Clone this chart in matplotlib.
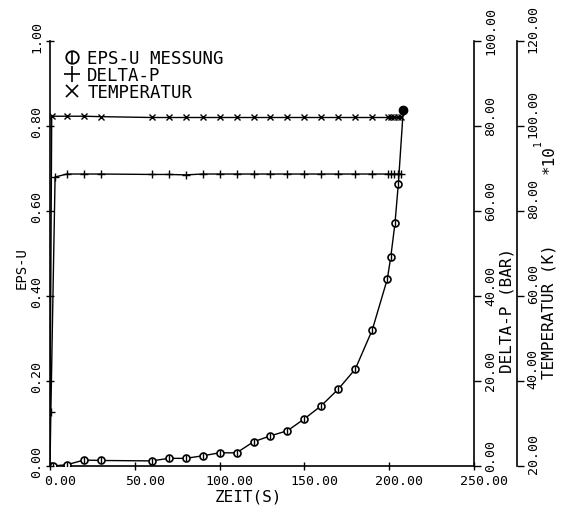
import matplotlib
matplotlib.use("Agg")
import matplotlib.pyplot as plt
from matplotlib.lines import Line2D
from matplotlib.legend_handler import HandlerTuple
from matplotlib.transforms import ScaledTranslation

plt.rcParams['font.family'] = ['DejaVu Sans Mono', 'DejaVu Sans']

# ---- data ----
t_eps = [0, 1.5, 10, 20, 30, 60, 70, 80, 90, 100, 110, 120, 130, 140, 150,
         160, 170, 180, 190, 198.9, 200.9, 203.4, 205.4, 208.3]
eps_u = [0.0, 0.0, 0.003, 0.014, 0.013, 0.012, 0.018, 0.018, 0.024, 0.031,
         0.031, 0.057, 0.071, 0.083, 0.111, 0.142, 0.181, 0.228, 0.320,
         0.440, 0.491, 0.571, 0.664, 0.838]

t_dp = [0, 0.5, 3, 10, 20, 30, 60, 70, 80, 90, 100, 110, 120, 130, 140, 150,
        160, 170, 180, 190, 199, 201, 203, 205, 207]
delta_p = [0.0, 12.7, 68.0, 68.7, 68.7, 68.7, 68.6, 68.6, 68.5, 68.7, 68.7,
           68.7, 68.7, 68.7, 68.7, 68.7, 68.7, 68.7, 68.7, 68.7, 68.7, 68.7,
           68.7, 68.7, 68.7]

t_temp = [0, 1, 10, 20, 30, 60, 70, 80, 90, 100, 110, 120, 130, 140, 150,
          160, 170, 180, 190, 199, 201, 203, 205, 207]
temperatur = [29.3, 102.3, 102.3, 102.3, 102.2, 102.0, 102.0, 102.0, 102.0,
              102.0, 102.0, 102.0, 102.0, 102.0, 102.0, 102.0, 102.0, 102.0,
              102.0, 102.0, 102.0, 102.0, 102.0, 102.0]

x_ticks = [0, 50, 100, 150, 200, 250]
y_ticks = [0.0, 0.2, 0.4, 0.6, 0.8, 1.0]
dp_ticks = [0, 20, 40, 60, 80, 100]
temp_ticks = [20, 40, 60, 80, 100, 120]

W, H = 562, 510
fig = plt.figure(figsize=(W / 100, H / 100), dpi=100)
ax = fig.add_axes([50 / W, 43 / H, 424 / W, 425 / H])
ax2 = ax.twinx()
ax3 = ax.twinx()

lw = 1.0
# EPS-U
ax.plot(t_eps, eps_u, color='black', lw=lw, marker='o', ms=5, mfc='white',
        mec='black', mew=1.2, zorder=3)
ax.plot(t_eps, eps_u, ls='none', marker='|', ms=5, color='black', mew=1.0,
        zorder=4)
ax.plot(t_eps[-1:], eps_u[-1:], ls='none', marker='o', ms=6, color='black',
        zorder=5)
# DELTA-P
ax2.plot(t_dp, delta_p, color='black', lw=lw, marker='+', ms=6, mew=1.0)
# Temperature
ax3.plot(t_temp, temperatur, color='black', lw=lw, marker='x', ms=4.5,
         mew=1.0, markevery=list(range(1, len(t_temp))))

ax.set_xlim(0, 250)
ax.set_ylim(0, 1)
ax2.set_ylim(0, 100)
ax3.set_ylim(20, 120)

for a in (ax, ax2, ax3):
    a.patch.set_visible(False)
    for s in a.spines.values():
        s.set_visible(False)
        s.set_linewidth(1.2)
ax.spines['left'].set_visible(True)
ax.spines['bottom'].set_visible(True)
ax2.spines['right'].set_visible(True)
ax3.spines['right'].set_visible(True)
ax3.spines['right'].set_position(('axes', 1 + 43 / 424))

tick_font = 9.5
ax.set_xticks(x_ticks)
ax.set_xticklabels(['%.2f' % v for v in x_ticks], fontsize=tick_font)
ax.set_yticks(y_ticks)
ax.set_yticklabels(['%.2f' % v for v in y_ticks], fontsize=tick_font,
                   rotation=90, va='center')
ax2.set_yticks(dp_ticks)
ax2.set_yticklabels(['%.2f' % v for v in dp_ticks], fontsize=tick_font,
                    rotation=90, va='center', ha='left')
ax3.set_yticks(temp_ticks)
ax3.set_yticklabels(['%.2f' % v for v in temp_ticks], fontsize=tick_font,
                    rotation=90, va='center', ha='left')

ax.tick_params(axis='x', direction='inout', length=6, width=1.0, pad=3)
ax.tick_params(axis='y', direction='inout', length=6, width=1.0, pad=2)
ax2.tick_params(axis='y', direction='out', length=5, width=1.0, pad=2.5)
ax3.tick_params(axis='y', direction='out', length=5, width=1.0, pad=2)

dpi = fig.dpi_scale_trans
for lab in ax.get_xticklabels():
    lab.set_transform(lab.get_transform() + ScaledTranslation(0.10, 0, dpi))
for lab in ax.get_yticklabels():
    lab.set_transform(lab.get_transform() + ScaledTranslation(0, 0.05, dpi))
for lab in ax2.get_yticklabels():
    lab.set_transform(lab.get_transform() + ScaledTranslation(0, 0.11, dpi))
for lab in ax3.get_yticklabels():
    lab.set_transform(lab.get_transform() + ScaledTranslation(0, 0.13, dpi))

# axis labels
fig.text(248 / W, 1 - 497 / H, 'ZEIT(S)', fontsize=11.5, ha='center',
         va='center')
fig.text(22 / W, 1 - 268 / H, 'EPS-U', fontsize=10, ha='center',
         va='center', rotation=90)
fig.text(507 / W, 1 - 310 / H, 'DELTA-P (BAR)', fontsize=11.5, ha='center',
         va='center', rotation=90)
fig.text(549 / W, 1 - 312 / H, 'TEMPERATUR (K)', fontsize=11.5, ha='center',
         va='center', rotation=90)
fig.text(549 / W, 1 - 160 / H, '*10', fontsize=11.5, ha='center',
         va='center', rotation=90)
fig.text(538 / W, 1 - 143 / H, '1', fontsize=7, ha='center',
         va='center', rotation=90)

# legend
h_eps = (Line2D([], [], ls='none', marker='o', ms=9, mfc='white',
                mec='black', mew=1.3),
         Line2D([], [], ls='none', marker='|', ms=9, color='black', mew=1.2))
h_dp = Line2D([], [], ls='none', marker='+', ms=11, color='black', mew=1.2)
h_t = Line2D([], [], ls='none', marker='x', ms=9, color='black', mew=1.2)
leg = ax.legend([h_eps, h_dp, h_t], ['EPS-U MESSUNG', 'DELTA-P', 'TEMPERATUR'],
                handler_map={tuple: HandlerTuple(ndivide=1)},
                loc='upper left', bbox_to_anchor=(13 / 424, 1 - 8 / 425),
                frameon=False, fontsize=12.5, labelspacing=-0.05,
                handlelength=1.0, handletextpad=0.4, borderaxespad=0,
                borderpad=0)

fig.savefig('out.png', dpi=100)
